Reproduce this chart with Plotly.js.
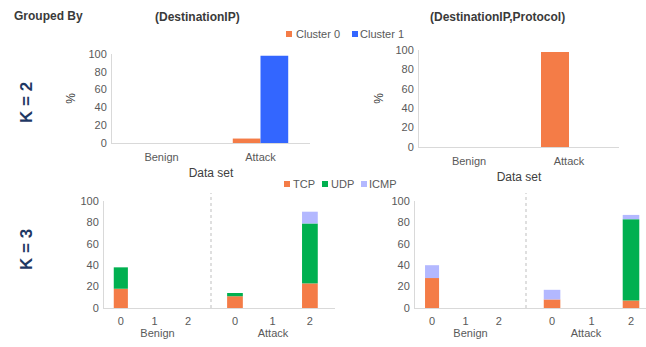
<!DOCTYPE html>
<html>
<head>
<meta charset="utf-8">
<script src="https://cdn.plot.ly/plotly-3.0.1.min.js"></script>
<style>
  html, body { margin: 0; padding: 0; background: #fff; }
  #chart { width: 646px; height: 347px; }
</style>
</head>
<body>
<div id="chart"></div>
<script>
// ---------- data ----------
const dataSets = ['Benign', 'Attack'];
const clusterNames = ['Cluster 0', 'Cluster 1'];
// K = 2, grouped by (DestinationIP): % per data set
const k2DestIPCluster0 = [0, 5];
const k2DestIPCluster1 = [0, 98];
// K = 2, grouped by (DestinationIP,Protocol)
const k2DestProtoCluster0 = [0, 98];
const k2DestProtoCluster1 = [0, 0];

const clusterIds = ['0', '1', '2'];
const protocols = ['TCP', 'UDP', 'ICMP'];
// K = 3, grouped by (DestinationIP): per protocol, per cluster
const k3DestIPBenignTCP = [18, 0, 0];
const k3DestIPBenignUDP = [20, 0, 0];
const k3DestIPBenignICMP = [0, 0, 0];
const k3DestIPAttackTCP = [11, 0, 23];
const k3DestIPAttackUDP = [3, 0, 56];
const k3DestIPAttackICMP = [0, 0, 11];
// K = 3, grouped by (DestinationIP,Protocol)
const k3DestProtoBenignTCP = [28, 0, 0];
const k3DestProtoBenignUDP = [0, 0, 0];
const k3DestProtoBenignICMP = [12, 0, 0];
const k3DestProtoAttackTCP = [8, 0, 7];
const k3DestProtoAttackUDP = [0, 0, 76];
const k3DestProtoAttackICMP = [9, 0, 4];

// ---------- style ----------
const W = 646, H = 347;
const px = v => v / W;
const py = v => 1 - v / H;
const FONT = 'Liberation Sans, Arial, sans-serif';
const clusterColors = ['#F47C47', '#3366FF'];
const protoColors = ['#F47C47', '#00B050', '#B3B8FF'];
const axisLine = '#D9D9D9';
const tickColor = '#595959';

const traces = [];

function addTopTraces(xa, ya, c0, c1) {
  [c0, c1].forEach((vals, i) => {
    traces.push({
      type: 'bar', x: dataSets, y: vals, xaxis: xa, yaxis: ya,
      name: clusterNames[i], showlegend: false,
      width: 0.28, offset: i === 0 ? -0.28 : 0,
      marker: { color: clusterColors[i], line: { width: 0 } },
      hoverinfo: 'skip'
    });
  });
}
addTopTraces('x', 'y', k2DestIPCluster0, k2DestIPCluster1);
addTopTraces('x2', 'y2', k2DestProtoCluster0, k2DestProtoCluster1);

function addStack(xa, ya, series) {
  const base = clusterIds.map(() => 0);
  series.forEach((vals, i) => {
    traces.push({
      type: 'bar', x: clusterIds, y: vals, base: base.slice(),
      xaxis: xa, yaxis: ya, name: protocols[i], showlegend: false,
      width: 0.42,
      marker: { color: protoColors[i], line: { width: 0 } },
      hoverinfo: 'skip'
    });
    vals.forEach((v, j) => { base[j] += v; });
  });
}
addStack('x3', 'y3', [k3DestIPBenignTCP, k3DestIPBenignUDP, k3DestIPBenignICMP]);
addStack('x4', 'y3', [k3DestIPAttackTCP, k3DestIPAttackUDP, k3DestIPAttackICMP]);
addStack('x5', 'y4', [k3DestProtoBenignTCP, k3DestProtoBenignUDP, k3DestProtoBenignICMP]);
addStack('x6', 'y4', [k3DestProtoAttackTCP, k3DestProtoAttackUDP, k3DestProtoAttackICMP]);

const tickFont = { family: FONT, size: 11, color: tickColor };
const titleFont = { family: FONT, size: 12, color: '#404040' };

function yAx(domain, anchor, title, standoff) {
  return {
    domain, anchor, range: [0, 100], dtick: 20, tick0: 0,
    showgrid: false, zeroline: false, showline: true, linecolor: axisLine, linewidth: 1,
    ticks: '', tickfont: tickFont, fixedrange: true, ticklabelstandoff: 2,
    title: title ? { text: title, font: titleFont, standoff: standoff } : undefined
  };
}
function xTop(domain, anchor) {
  return {
    domain, anchor, type: 'category', categoryarray: dataSets, categoryorder: 'array',
    range: [-0.5, 1.5], showgrid: false, zeroline: false, showline: true,
    linecolor: axisLine, linewidth: 1, ticks: '', tickfont: tickFont, fixedrange: true,
    ticklabelstandoff: 4,
    title: { text: 'Data set', font: titleFont, standoff: 6 }
  };
}
function xBot(domain, anchor, range, title) {
  return {
    domain, anchor, type: 'category', categoryarray: clusterIds, categoryorder: 'array',
    range, showgrid: false, zeroline: false, showline: true,
    linecolor: axisLine, linewidth: 1, ticks: '', tickfont: tickFont, fixedrange: true,
    ticklabelstandoff: 3,
    title: { text: title, font: { family: FONT, size: 11, color: tickColor }, standoff: 2 }
  };
}

const layout = {
  width: W, height: H,
  margin: { l: 0, r: 0, t: 0, b: 0 },
  paper_bgcolor: '#fff', plot_bgcolor: 'rgba(0,0,0,0)',
  barmode: 'overlay',
  showlegend: false,
  font: { family: FONT, color: tickColor },
  xaxis: xTop([px(112), px(310)], 'y'),
  yaxis: yAx([py(143), py(54)], 'x', '%', 10),
  xaxis2: xTop([px(419), px(619)], 'y2'),
  yaxis2: yAx([py(147), py(50)], 'x2', '%', 9),
  xaxis3: xBot([px(104), px(211)], 'y3', [-0.5, 2.68], dataSets[0]),
  xaxis4: xBot([px(211), px(335)], 'y3', [-0.64, 2.67], dataSets[1]),
  yaxis3: yAx([py(308), py(201)], 'x3', null),
  xaxis5: xBot([px(415), px(526)], 'y4', [-0.51, 2.81], dataSets[0]),
  xaxis6: xBot([px(526), 1], 'y4', [-0.66, 2.38], dataSets[1]),
  yaxis4: yAx([py(308), py(201)], 'x5', null),
  shapes: [],
  annotations: []
};

const ann = (text, x, y, opts) => Object.assign({
  text, x: px(x), y: py(y), xref: 'paper', yref: 'paper',
  showarrow: false, xanchor: 'center', yanchor: 'middle',
  font: { family: FONT, size: 12, color: '#404040' }
}, opts || {});

layout.annotations.push(
  ann('<b>Grouped By</b>', 48, 16, { font: { family: FONT, size: 12, color: '#3A3A3A' } }),
  ann('<b>(DestinationIP)</b>', 197, 17, { font: { family: FONT, size: 12, color: '#3A3A3A' } }),
  ann('<b>(DestinationIP,Protocol)</b>', 497, 17, { font: { family: FONT, size: 12, color: '#3A3A3A' } }),
  ann('<b>K = 2</b>', 26, 103, { textangle: -90, font: { family: FONT, size: 17, color: '#1F3864' } }),
  ann('<b>K = 3</b>', 26, 250, { textangle: -90, font: { family: FONT, size: 17, color: '#1F3864' } })
);

// legends (text + square swatches)
function legendItem(label, color, sqx, txtx, yc) {
  layout.shapes.push({
    type: 'rect', xref: 'paper', yref: 'paper',
    x0: px(sqx), x1: px(sqx + 6), y0: py(yc + 3), y1: py(yc - 3),
    fillcolor: color, line: { width: 0 }
  });
  layout.annotations.push(ann(label, txtx, yc, {
    xanchor: 'left', font: { family: FONT, size: 11, color: tickColor }
  }));
}
legendItem(clusterNames[0], clusterColors[0], 286, 294, 34);
legendItem(clusterNames[1], clusterColors[1], 352, 358, 34);
legendItem(protocols[0], protoColors[0], 284, 291, 184);
legendItem(protocols[1], protoColors[1], 322, 329, 184);
legendItem(protocols[2], protoColors[2], 361, 367, 184);

// dashed separators between Benign and Attack groups
[211, 526].forEach(xv => {
  layout.shapes.push({
    type: 'line', xref: 'paper', yref: 'paper',
    x0: px(xv), x1: px(xv), y0: py(308), y1: py(193),
    line: { color: '#BFBFBF', width: 1, dash: '3px,3px' }
  });
});

Plotly.newPlot('chart', traces, layout, { displayModeBar: false, staticPlot: true });
</script>
</body>
</html>
